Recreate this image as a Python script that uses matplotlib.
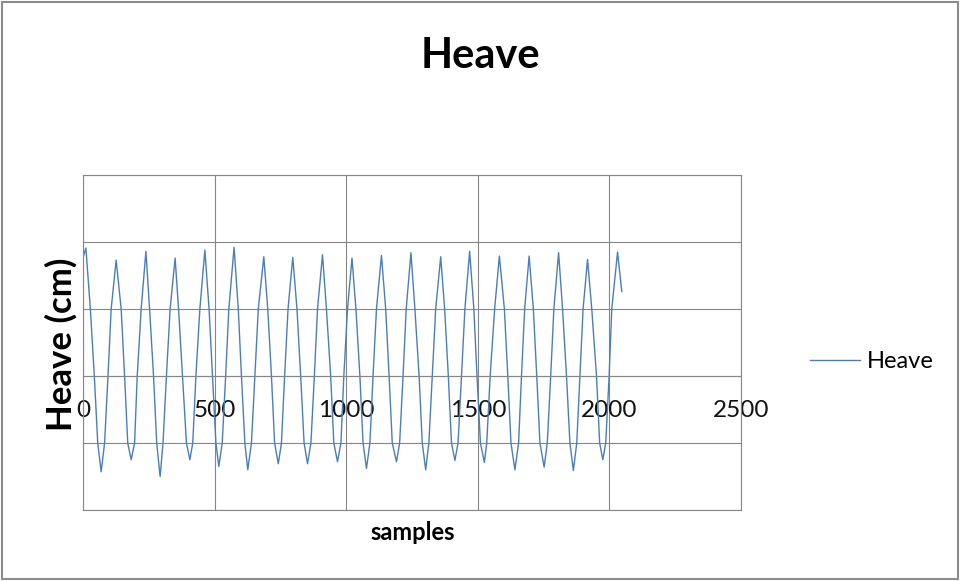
import matplotlib
matplotlib.use('Agg')
import matplotlib.pyplot as plt
from matplotlib.patches import Rectangle

plt.rcParams['font.family'] = ['Lato', 'DejaVu Sans']

# values: start, then per wave peak -> 1 -> 0 -> -1 -> trough -> -1 -> 0 -> 1 -> peak
samples = [1, 11,
           28, 43, 56, 69, 82, 95, 107, 126,
           145, 158, 170, 183, 196, 206, 221, 239,
           253, 268, 280, 293, 304, 317, 331, 350,
           363, 378, 393, 406, 417, 429, 444, 463,
           479, 492, 505, 516, 529, 542, 554, 574,
           590, 602, 615, 626, 640, 653, 666, 687,
           702, 716, 728, 742, 754, 766, 779, 797,
           813, 827, 840, 853, 866, 879, 891, 910,
           925, 941, 953, 967, 980, 991, 1005, 1022,
           1037, 1052, 1064, 1077, 1090, 1102, 1115, 1134,
           1150, 1163, 1175, 1191, 1203, 1216, 1228, 1246,
           1261, 1277, 1289, 1302, 1314, 1327, 1340, 1359,
           1374, 1388, 1400, 1413, 1425, 1438, 1451, 1469,
           1485, 1497, 1510, 1525, 1534, 1547, 1564, 1582,
           1601, 1614, 1626, 1641, 1655, 1666, 1678, 1695,
           1711, 1724, 1736, 1752, 1764, 1777, 1789, 1807,
           1822, 1837, 1850, 1863, 1876, 1888, 1900, 1917,
           1933, 1951, 1963, 1975, 1986, 1999, 2009, 2031,
           2047]
heave = [1.78, 1.91,
         1, 0, -1, -1.43, -1, 0, 1, 1.73,
         1, 0, -1, -1.25, -1, 0, 1, 1.86,
         1, 0, -1, -1.50, -1, 0, 1, 1.76,
         1, 0, -1, -1.25, -1, 0, 1, 1.88,
         1, 0, -1, -1.35, -1, 0, 1, 1.92,
         1, 0, -1, -1.40, -1, 0, 1, 1.78,
         1, 0, -1, -1.31, -1, 0, 1, 1.77,
         1, 0, -1, -1.31, -1, 0, 1, 1.81,
         1, 0, -1, -1.28, -1, 0, 1, 1.76,
         1, 0, -1, -1.38, -1, 0, 1, 1.80,
         1, 0, -1, -1.28, -1, 0, 1, 1.84,
         1, 0, -1, -1.40, -1, 0, 1, 1.78,
         1, 0, -1, -1.26, -1, 0, 1, 1.86,
         1, 0, -1, -1.29, -1, 0, 1, 1.79,
         1, 0, -1, -1.40, -1, 0, 1, 1.79,
         1, 0, -1, -1.36, -1, 0, 1, 1.84,
         1, 0, -1, -1.41, -1, 0, 1, 1.74,
         1, 0, -1, -1.25, -1, 0, 1, 1.85,
         1.26]
x_ticks = [0, 500, 1000, 1500, 2000, 2500]
y_ticks = [-2, -1, 0, 1, 2, 3]

grid_col = '#868686'

fig = plt.figure(figsize=(9.61, 5.81), dpi=100)
fig.patches.append(Rectangle((0.002, 0.003), 0.995, 0.993, transform=fig.transFigure,
                             fill=False, edgecolor='#8c8c8c', linewidth=1.5))

ax = fig.add_axes([83 / 961, 1 - 510 / 581, 658 / 961, 335 / 581])
ax.plot(samples, heave, color='#4a7ebb', linewidth=1.0, label='Heave')

ax.set_xlim(0, 2500)
ax.set_ylim(-2, 3)
ax.set_xticks(x_ticks)
ax.set_yticks(y_ticks)
ax.set_yticklabels([])
ax.grid(True, color=grid_col, linewidth=0.8)
ax.set_axisbelow(True)
for s in ax.spines.values():
    s.set_color(grid_col)
    s.set_linewidth(0.8)
# x axis crosses at zero like the original
ax.spines['bottom'].set_position(('data', 0))
ax.axhline(-2, color=grid_col, linewidth=0.8, clip_on=False)
ax.tick_params(axis='both', length=0)
ax.tick_params(axis='x', labelsize=17.5, pad=17, colors='#111111')

fig.text(0.5, 1 - 56 / 581, 'Heave', ha='center', va='center', fontsize=30, fontweight='bold')
fig.text(61 / 961, 1 - 344 / 581, 'Heave (cm)', ha='center', va='center', rotation=90,
         fontsize=25, fontweight='bold')
fig.text(413 / 961, 1 - 533 / 581, 'samples', ha='center', va='center', fontsize=17,
         fontweight='bold')

ax.legend(loc='center left', bbox_to_anchor=(1.105, 0.442), frameon=False, fontsize=17,
          handlelength=2.1, handletextpad=0.3, borderpad=0, borderaxespad=0)

fig.savefig('out.png', dpi=100)
